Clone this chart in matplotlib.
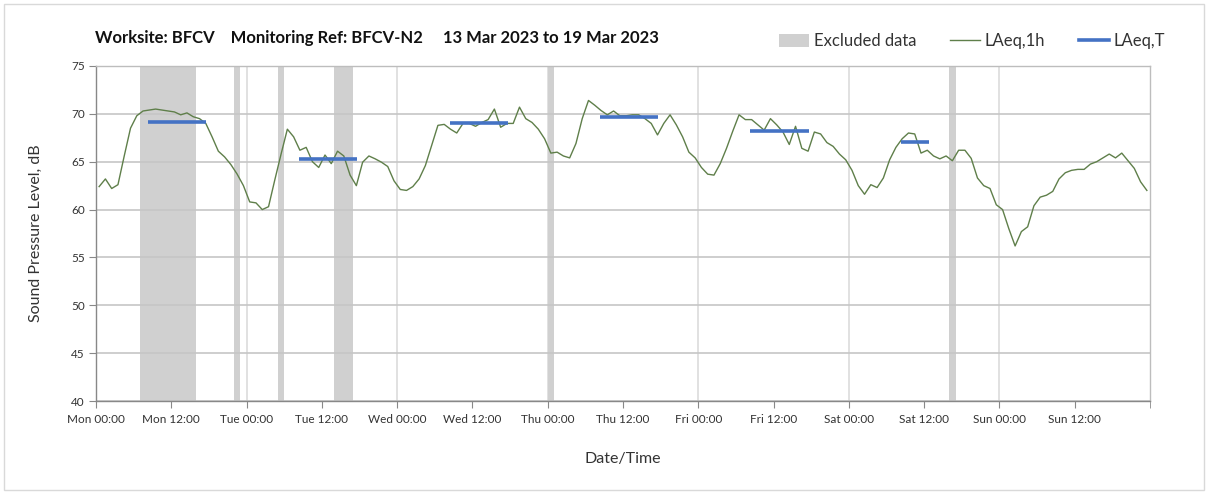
import matplotlib
matplotlib.use("Agg")
import matplotlib.pyplot as plt
from matplotlib.patches import Patch, Rectangle
from matplotlib.lines import Line2D

# ---------------- data ----------------
# hourly LAeq,1h values, Mon 00:00 .. Sun 23:00 (plotted at mid-hour)
laeq_1h = [
    62.4, 63.2, 62.2, 62.6, 65.6, 68.5, 69.8, 70.3, 70.4, 70.5, 70.4, 70.3,
    70.2, 69.9, 70.1, 69.7, 69.5, 69.0, 67.6, 66.1, 65.5, 64.7, 63.7, 62.5,
    60.8, 60.7, 60.0, 60.3, 63.1, 65.8, 68.4, 67.6, 66.2, 66.5, 65.0, 64.4,
    65.7, 64.8, 66.1, 65.6, 63.6, 62.5, 64.95, 65.6, 65.3, 64.95, 64.5, 63.0,
    62.1, 62.0, 62.4, 63.2, 64.6, 66.7, 68.8, 68.9, 68.4, 68.0, 69.0, 69.0,
    68.7, 69.1, 69.4, 70.5, 68.6, 69.0, 69.0, 70.7, 69.5, 69.1, 68.4, 67.4,
    65.9, 66.0, 65.6, 65.4, 66.9, 69.5, 71.4, 70.9, 70.35, 69.9, 70.3, 69.8,
    69.8, 69.9, 69.9, 69.5, 69.0, 67.8, 69.0, 69.9, 68.85, 67.6, 66.0, 65.4,
    64.4, 63.7, 63.6, 64.8, 66.4, 68.2, 69.9, 69.4, 69.4, 68.85, 68.3, 69.5,
    68.85, 68.1, 66.8, 68.7, 66.4, 66.1, 68.1, 67.9, 67.0, 66.6, 65.8, 65.2,
    64.1, 62.5, 61.6, 62.6, 62.3, 63.3, 65.2, 66.5, 67.4, 68.0, 67.9, 65.9,
    66.2, 65.6, 65.3, 65.6, 65.1, 66.2, 66.2, 65.35, 63.3, 62.5, 62.2, 60.5,
    60.0, 58.0, 56.2, 57.7, 58.2, 60.4, 61.3, 61.5, 61.9, 63.2, 63.85, 64.1,
    64.2, 64.2, 64.75, 65.0, 65.4, 65.8, 65.4, 65.9, 65.1, 64.3, 62.9, 62.0,
]
hours = [h + 0.5 for h in range(len(laeq_1h))]

# excluded periods (hours from Mon 00:00)
excl_start = [7, 22, 29, 38, 72, 136]
excl_end = [16, 23, 30, 41, 73, 137]

# LAeq,T daytime levels
laeqT_start = [8.3, 32.4, 56.4, 80.3, 104.3, 128.3]
laeqT_end = [17.5, 41.6, 65.6, 89.6, 113.6, 132.7]
laeqT_val = [69.2, 65.3, 69.0, 69.7, 68.2, 67.1]

tick_labels = ["Mon 00:00", "Mon 12:00", "Tue 00:00", "Tue 12:00",
               "Wed 00:00", "Wed 12:00", "Thu 00:00", "Thu 12:00",
               "Fri 00:00", "Fri 12:00", "Sat 00:00", "Sat 12:00",
               "Sun 00:00", "Sun 12:00"]

title = "Worksite: BFCV    Monitoring Ref: BFCV-N2     13 Mar 2023 to 19 Mar 2023"

# ---------------- plot ----------------
plt.rcParams['font.family'] = ['Lato', 'DejaVu Sans']

W, H = 1208, 494
fig = plt.figure(figsize=(W / 100, H / 100), dpi=100)
fig.patches.append(Rectangle((4 / W, 4 / H), 1 - 8 / W, 1 - 8 / H,
                             transform=fig.transFigure, fill=False,
                             edgecolor='#d9d9d9', linewidth=1.0))

ax = fig.add_axes([96 / W, (H - 401) / H, (1150 - 96) / W, (401 - 66) / H])

excl_col = '#d0d0d0'
for s, e in zip(excl_start, excl_end):
    ax.axvspan(s, e, color=excl_col, lw=0, zorder=0.5)

# grid
for y in range(40, 80, 5):
    ax.axhline(y, color='#c6c6c6', lw=1.2, zorder=0.8)
for d in range(24, 168, 24):
    ax.axvline(d, color='#dcdcdc', lw=1.2, zorder=0.3)

ax.plot(hours, laeq_1h, color='#5f7f4a', lw=1.0, zorder=3)
for s, e, v in zip(laeqT_start, laeqT_end, laeqT_val):
    ax.plot([s, e], [v, v], color='#4472C4', lw=2.6, zorder=4,
            solid_capstyle='butt')

ax.set_xlim(0, 168)
ax.set_ylim(40, 75)
ax.set_xticks(range(0, 168, 12))
ax.set_xticklabels(tick_labels, fontsize=8.5, color='#333333')
ax.set_xticks([168], minor=True)
ax.set_yticks(range(40, 80, 5))
ax.set_yticklabels([str(v) for v in range(40, 80, 5)], fontsize=8.5,
                   color='#333333')
ax.tick_params(axis='x', which='both', direction='out', length=5,
               color='#888888', pad=4)
ax.tick_params(axis='y', direction='out', length=5, color='#888888', pad=3)

for side in ['left', 'bottom']:
    ax.spines[side].set_color('#888888')
    ax.spines[side].set_linewidth(1.0)
for side in ['top', 'right']:
    ax.spines[side].set_color('#bdbdbd')
    ax.spines[side].set_linewidth(1.0)

ax.set_ylabel("Sound Pressure Level, dB", fontsize=11.5, color='#333333',
              labelpad=20)
ax.set_xlabel("Date/Time", fontsize=11.5, color='#333333', labelpad=20)

fig.text(95 / W, 1 - 38 / H, title, fontsize=12, fontweight='bold',
         color='#111111', va='center', ha='left')

handles = [Patch(facecolor=excl_col, edgecolor='none'),
           Line2D([0], [0], color='#5f7f4a', lw=1.0),
           Line2D([0], [0], color='#4472C4', lw=2.6)]
labels = ["Excluded data", "LAeq,1h", "LAeq,T"]
fig.legend(handles, labels, loc='center right',
           bbox_to_anchor=(1180 / W, 1 - 41 / H), ncol=3, frameon=False,
           fontsize=12, handlelength=1.8, handleheight=0.8,
           handletextpad=0.3, columnspacing=2.0, labelcolor='#333333')

fig.savefig("out.png", dpi=100)
